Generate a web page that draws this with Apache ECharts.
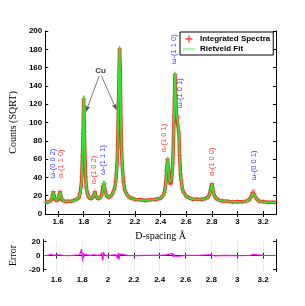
<!DOCTYPE html>
<html>
<head>
<meta charset="utf-8">
<script src="https://cdn.jsdelivr.net/npm/echarts@6/dist/echarts.min.js"></script>
<style>html,body{margin:0;padding:0;background:#fff}#c{width:305px;height:306px}</style>
</head>
<body>
<div id="c"></div>
<script>
// D-spacing sample positions (Å)
const dSpacing = [1.50,1.52,1.54,1.553,1.558,1.563,1.568,1.573,1.58,1.59,1.60,1.605,1.61,1.615,1.62,1.625,1.63,1.64,1.66,1.68,1.70,1.72,1.74,1.76,1.77,1.78,1.785,1.79,1.795,1.80,1.805,1.81,1.815,1.82,1.83,1.84,1.85,1.86,1.87,1.88,1.887,1.895,1.90,1.91,1.92,1.93,1.94,1.95,1.958,1.965,1.97,1.98,1.99,2.00,2.02,2.04,2.05,2.06,2.065,2.07,2.075,2.08,2.085,2.09,2.095,2.10,2.11,2.12,2.14,2.16,2.18,2.20,2.24,2.28,2.32,2.36,2.38,2.40,2.42,2.43,2.44,2.447,2.454,2.461,2.47,2.478,2.486,2.495,2.505,2.512,2.518,2.524,2.530,2.536,2.542,2.548,2.555,2.56,2.57,2.58,2.60,2.62,2.65,2.68,2.72,2.75,2.77,2.78,2.79,2.795,2.80,2.805,2.81,2.82,2.83,2.85,2.88,2.92,2.96,3.00,3.04,3.07,3.09,3.10,3.11,3.118,3.125,3.132,3.14,3.15,3.17,3.20,3.24,3.28,3.30];
// Integrated spectra (observed), counts (SQRT)
const observed = [13.0,12.8,14.2,16.8,21.2,24.6,20.3,17.6,15.1,14.8,15.4,17.9,21.5,24.8,20.6,17.7,15.3,14.3,13.6,14.0,13.8,14.6,15.6,17.4,21.6,30.5,41,63,88,126,90,62,41,29,21.8,18.0,17.5,16.6,17.9,20.9,24.8,19.5,18.3,16.7,17.1,17.9,20.5,30,33,33,24.2,19.2,18.6,18.3,20.9,27.3,35.5,55.0,75.0,110,150,181,158,104,72,54.5,35.2,26.2,20.6,17.7,17.0,15.9,15.6,14.8,15.6,15.8,16.7,17.1,20.3,23.9,33.0,47.5,60.5,47.5,35.5,32.6,38.5,56,107,153,130,107,105,106.5,89.5,64,43.5,36.9,27.2,23.5,19.4,17.8,16.1,16.0,15.8,17.0,18.2,21.1,26.5,30.5,33.4,29.3,25.0,20.1,17.2,15.5,14.1,13.9,13.2,13.5,13.3,14.3,15.2,17.2,20.1,23.6,25.4,22.0,18.5,16.3,14.0,13.5,12.8,12.9,12.5];
// Rietveld fit, counts (SQRT)
const rietveldFit = [12.8,13.0,13.9,17.1,20.7,23.9,20.8,17.3,15.3,14.6,15.7,17.5,21.1,24.1,21.0,17.4,15.5,14.1,13.8,13.8,14.0,14.4,15.3,17.7,21.0,29.3,39.1,58.6,96.8,129.5,96.9,58.8,39.4,29.6,21.3,18.3,17.3,16.8,17.6,20.5,24.2,19.9,18.1,16.9,16.9,17.6,19.8,27.1,36.1,28.6,23.4,19.5,18.3,18.5,20.6,26.8,34.6,53.8,73.5,106.8,153.8,182.8,153.8,106.8,73.5,53.8,34.7,26.6,20.3,17.9,16.8,16.1,15.4,15.0,15.4,16.0,16.5,17.3,19.9,23.3,32.0,46.6,61.4,48.8,34.9,33.1,37.7,54.2,109.6,154.5,128,108,104,106,91,63,44,36.5,27.5,23.2,19.6,17.6,16.3,15.8,16.0,16.8,18.4,20.6,25.8,29.8,32.8,29.8,25.4,19.8,17.4,15.3,14.3,13.7,13.4,13.3,13.5,14.1,15.4,16.8,19.6,23.0,25.0,22.4,18.8,16.0,14.2,13.3,12.9,12.7,12.6];
// Residual (error) trace
const errD = [1.50,1.53,1.56,1.565,1.58,1.615,1.62,1.65,1.70,1.75,1.78,1.79,1.795,1.80,1.803,1.807,1.81,1.815,1.83,1.86,1.887,1.89,1.92,1.945,1.952,1.958,1.962,1.966,1.97,1.99,2.03,2.06,2.07,2.075,2.08,2.085,2.09,2.10,2.15,2.20,2.30,2.40,2.45,2.46,2.50,2.505,2.51,2.515,2.53,2.55,2.60,2.70,2.78,2.80,2.82,2.90,3.00,3.10,3.12,3.13,3.20,3.30];
const errVal = [0,0.3,1.2,-0.8,0.2,0.8,-0.4,0.2,-0.3,0.4,1,3,9,-2,-8,4,-3,1.5,0.5,0.2,1,-1,0.3,1,4,-7,-3,5,1,-0.5,0.6,1,2,-4,4,-6,2,0.5,0.3,-0.2,0.2,0.1,1,-1,3,-2,2,-1,0.5,-0.8,0.2,0.1,0.8,0.9,-0.4,0.2,-0.2,0.2,1.2,-0.6,0.1,0];
// Tick labels
const xTickVals = [1.6,1.8,2,2.2,2.4,2.6,2.8,3,3.2];
const errTickVals = [-20,0,20];
// Peak annotations
const peakLabels = ['ω-(0 0 2)','α-(1 1 0)','α-(1 0 2)','ω-(1 1 1)','α-(1 0 1)','ω-(1 1 0)','ω-(1 0 1)','α-(1 0 0)','ω-(0 0 1)'];
const peakLabelD = [1.563,1.619,1.876,1.950,2.424,2.500,2.548,2.800,3.128];
const peakLabelY = [55,55,48,59,83,180,132,57,53];
const peakLabelColor = ['#0000ff','#ff0000','#ff0000','#0000ff','#ff0000','#0000ff','#0000ff','#ff0000','#0000ff'];

const plusPath = 'path://M4,0H6V4H10V6H6V10H4V6H0V4H4Z';
const tickFont = {fontFamily:'Liberation Sans', fontWeight:'bold', fontSize:8, color:'#000'};
const serif = {fontFamily:'Liberation Serif', fontSize:10, color:'#000'};
const line = {show:true, lineStyle:{color:'#000', width:1}};

const chart = echarts.init(document.getElementById('c'), null, {renderer:'canvas'});
chart.setOption({
  animation:false,
  backgroundColor:'#fff',
  grid:[
    {left:39.5, right:29, top:31, height:183},
    {left:39.5, right:29, top:239.5, height:32}
  ],
  legend:{
    left:180, top:32, orient:'vertical', itemGap:2, itemWidth:12, itemHeight:7,
    padding:[3,3,2,3], borderColor:'#000', borderWidth:1, backgroundColor:'#fff',
    textStyle:{fontFamily:'Liberation Sans', fontWeight:'bold', fontSize:8, color:'#000'},
    data:[
      {name:'Integrated Spectra', icon:plusPath, itemStyle:{color:'#ff4040'}},
      {name:'Rietveld Fit', icon:'path://M0,4.2H24V5.8H0Z', itemStyle:{color:'#22ee22', borderColor:'#22ee22'}, lineStyle:{color:'#22ee22'}}
    ]
  },
  xAxis:[
    {type:'value', gridIndex:0, position:'bottom', min:1.5, max:3.3,
     name:'D-spacing Å', nameLocation:'middle', nameGap:9, nameTextStyle:serif,
     axisLine:line, splitLine:{show:false},
     axisTick:{inside:true, length:3, customValues:xTickVals, lineStyle:{color:'#000'}},
     axisLabel:{customValues:xTickVals, margin:4, ...tickFont}},
    {type:'value', gridIndex:0, position:'top', min:1.5, max:3.3,
     axisLine:line, splitLine:{show:false},
     axisTick:{inside:true, length:3, customValues:xTickVals, lineStyle:{color:'#000'}},
     axisLabel:{show:false}},
    {type:'value', gridIndex:1, position:'bottom', min:1.5, max:3.3,
     axisLine:line, splitLine:{show:false},
     axisTick:{inside:true, length:3, customValues:xTickVals, lineStyle:{color:'#000'}},
     axisLabel:{customValues:xTickVals, margin:4, ...tickFont}},
    {type:'value', gridIndex:1, position:'top', min:1.5, max:3.3,
     axisLine:line, splitLine:{show:false},
     axisTick:{inside:true, length:3, customValues:xTickVals, lineStyle:{color:'#000'}},
     axisLabel:{show:false}}
  ],
  yAxis:[
    {type:'value', gridIndex:0, position:'left', min:0, max:200, interval:20,
     name:'Counts (SQRT)', nameLocation:'middle', nameGap:15, nameTextStyle:serif,
     axisLine:line, splitLine:{show:false},
     axisTick:{show:true, inside:true, length:3, lineStyle:{color:'#000'}},
     axisLabel:{margin:3, ...tickFont}},
    {type:'value', gridIndex:0, position:'right', min:0, max:200, interval:20,
     axisLine:line, splitLine:{show:false},
     axisTick:{show:true, inside:true, length:3, lineStyle:{color:'#000'}},
     axisLabel:{show:false}},
    {type:'value', gridIndex:1, position:'left', min:-23, max:23,
     name:'Error', nameLocation:'middle', nameGap:15, nameTextStyle:serif,
     axisLine:line, splitLine:{show:false},
     axisTick:{show:true, inside:true, length:3, customValues:errTickVals, lineStyle:{color:'#000'}},
     axisLabel:{customValues:errTickVals, margin:3, ...tickFont}},
    {type:'value', gridIndex:1, position:'right', min:-23, max:23,
     axisLine:line, splitLine:{show:false},
     axisTick:{show:true, inside:true, length:3, customValues:errTickVals, lineStyle:{color:'#000'}},
     axisLabel:{show:false}}
  ],
  series:[
    {name:'Integrated Spectra', type:'line', xAxisIndex:0, yAxisIndex:0, z:2,
     data:dSpacing.map((d,i)=>[d,observed[i]]),
     symbol:plusPath, symbolSize:5, showSymbol:true,
     itemStyle:{color:'rgba(255,50,50,0.55)'},
     lineStyle:{color:'#ff2a2a', width:3.5}},
    {name:'Rietveld Fit', type:'line', xAxisIndex:0, yAxisIndex:0, z:3,
     color:'#22ee22', itemStyle:{color:'#22ee22'},
     data:dSpacing.map((d,i)=>[d,rietveldFit[i]]),
     symbol:'none', lineStyle:{color:'#2ee82e', width:1.8}},
    {name:'labels', type:'scatter', xAxisIndex:0, yAxisIndex:0, z:4, silent:true,
     symbolSize:0,
     data:peakLabels.map((t,i)=>({value:[peakLabelD[i],peakLabelY[i]],
       label:{show:true, formatter:t, rotate:90, position:'inside', color:peakLabelColor[i],
              fontFamily:'Liberation Sans', fontSize:7.5}}))
       .concat([{value:[1.932,157], label:{show:true, formatter:'Cu', position:'inside',
              color:'#000', fontFamily:'Liberation Sans', fontWeight:'bold', fontSize:8}}]),
     markLine:{silent:true, symbol:['none','arrow'], symbolSize:[4,6],
       label:{show:false}, lineStyle:{color:'#555', width:0.8, type:'solid'},
       data:[
         [{coord:[1.921,151]},{coord:[1.818,112]}],
         [{coord:[1.938,151]},{coord:[2.055,114]}]
       ]}},
    {name:'Error', type:'line', xAxisIndex:2, yAxisIndex:2, z:3,
     data:errD.map((d,i)=>[d,errVal[i]]),
     symbol:'none', lineStyle:{color:'#ff00ff', width:1.2},
     markLine:{silent:true, symbol:'none', label:{show:false},
       lineStyle:{color:'#bbb', width:0.8, type:[1,2]},
       data:xTickVals.map(v=>({xAxis:v}))}}
  ]
});
</script>
</body>
</html>
